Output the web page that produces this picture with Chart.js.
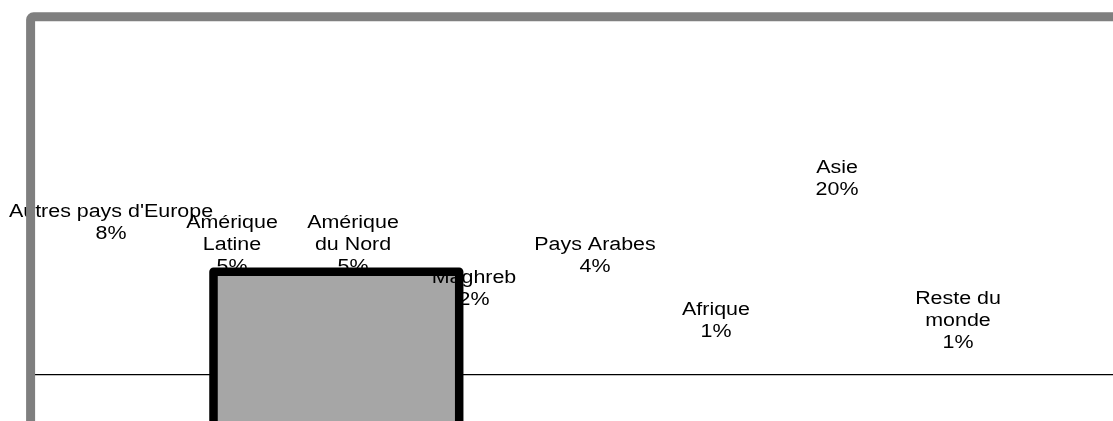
<!DOCTYPE html>
<html>
<head>
<meta charset="utf-8">
<script src="https://cdn.jsdelivr.net/npm/chart.js@4"></script>
<style>
    html, body { margin: 0; padding: 0; background: #fff; }
    #wrap { position: relative; width: 1113px; height: 421px; }
</style>
</head>
<body>
<div id="wrap"><canvas id="regionChart"></canvas></div>
<script>
// Data
const regions = ["Autres pays d'Europe", 'Amérique\nLatine', 'Amérique\ndu Nord', 'Maghreb',
    'Pays Arabes', 'Afrique', 'Asie', 'Reste du\nmonde'];
const shares = [8, 5, 5, 2, 4, 1, 20, 1]; // percent

const ink = '#000000';
const frameGray = '#7f7f7f';
const boxFill = '#a6a6a6';

// leftover shapes of the original picture (frame, base line, grey box)
const decorations = {
    id: 'decorations',
    afterDraw(chart) {
        const ctx = chart.ctx;
        const meta = chart.getDatasetMeta(0);

        ctx.save();
        // base line
        ctx.strokeStyle = ink;
        ctx.lineWidth = 1.3;
        ctx.beginPath();
        ctx.moveTo(35, 374.6);
        ctx.lineTo(1113, 374.6);
        ctx.stroke();

        // grey box fill
        ctx.fillStyle = boxFill;
        ctx.fillRect(214, 272, 245, 160);

        // labels, placed at each point of the dataset
        ctx.fillStyle = ink;
        ctx.font = '18px "Liberation Sans", Arial, sans-serif';
        ctx.textAlign = 'center';
        ctx.textBaseline = 'middle';
        meta.data.forEach((pt, i) => {
            const lines = regions[i].split('\n').concat([shares[i] + '%']);
            const step = 22;
            const y0 = pt.y - (lines.length - 1) * step / 2;
            lines.forEach((txt, j) => {
                ctx.save();
                ctx.translate(pt.x, y0 + j * step);
                ctx.scale(1.19, 1);
                ctx.fillText(txt, 0, 0);
                ctx.restore();
            });
        });

        // grey box border
        ctx.strokeStyle = ink;
        ctx.lineWidth = 8.5;
        ctx.lineJoin = 'round';
        ctx.beginPath();
        ctx.moveTo(213.5, 440);
        ctx.lineTo(213.5, 271.7);
        ctx.lineTo(459.2, 271.7);
        ctx.lineTo(459.2, 440);
        ctx.stroke();

        // outer frame
        ctx.strokeStyle = frameGray;
        ctx.lineWidth = 9;
        ctx.beginPath();
        ctx.moveTo(30.6, 440);
        ctx.lineTo(30.6, 20);
        ctx.arcTo(30.6, 16.7, 34, 16.7, 3);
        ctx.lineTo(1130, 16.7);
        ctx.stroke();
        ctx.restore();
    }
};

new Chart(document.getElementById('regionChart'), {
    type: 'line',
    data: {
        labels: regions,
        datasets: [{
            label: 'Part',
            data: shares,
            showLine: false,
            pointRadius: 0,
            pointHoverRadius: 0
        }]
    },
    options: {
        responsive: true,
        maintainAspectRatio: false,
        animation: false,
        events: [],
        layout: {
            padding: { left: 50.5, right: 94.5, top: 102.7, bottom: 99.5 }
        },
        scales: {
            x: { type: 'category', offset: true, display: false },
            y: { type: 'logarithmic', min: 1, max: 100, display: false }
        },
        plugins: {
            legend: { display: false },
            tooltip: { enabled: false }
        }
    },
    plugins: [decorations]
});
</script>
</body>
</html>
